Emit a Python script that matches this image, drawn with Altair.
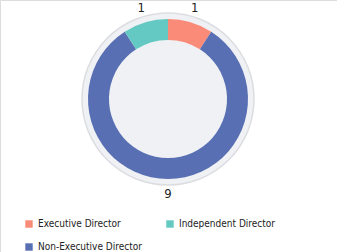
import altair as alt
import pandas as pd

roles = ["Executive Director", "Non-Executive Director", "Independent Director"]
counts = [1, 9, 1]
colors = ["#f98b78", "#5870b3", "#63c9c2"]

df = pd.DataFrame({"role": roles, "count": counts, "idx": list(range(len(roles)))})

CX, CY = 168, 99
FONT = "DejaVu Sans Condensed"

base = alt.Chart(df)

bg = alt.Chart(pd.DataFrame({"k": [0]})).mark_arc(
    radius=86, theta=0, theta2=6.2832, fill="#f0f1f4", stroke="#dcdde1", strokeWidth=1.5
).encode(x=alt.value(CX), y=alt.value(CY))

ring = base.mark_arc(radius=80, radius2=59).encode(
    theta=alt.Theta("count:Q", stack=True),
    order=alt.Order("idx:Q"),
    color=alt.Color(
        "role:N",
        sort=roles,
        scale=alt.Scale(domain=roles, range=colors),
        legend=alt.Legend(
            title=None, orient="none", legendX=24, legendY=219, columns=2,
            symbolType="square", symbolSize=55, symbolStrokeWidth=0,
            labelFont=FONT, labelFontSize=10, labelColor="#222222",
            columnPadding=23, rowPadding=13, padding=0, labelLimit=200,
        ),
    ),
    x=alt.value(CX), y=alt.value(CY),
)

labels = base.mark_text(radius=95, font=FONT, fontSize=13, color="#222222").encode(
    theta=alt.Theta("count:Q", stack=True),
    order=alt.Order("idx:Q"),
    text=alt.Text("count:Q"),
    x=alt.value(CX), y=alt.value(CY),
)

chart = alt.layer(bg, ring, labels).properties(
    width=337, height=252, autosize=alt.AutoSizeParams(type="none"), padding=0
).configure_view(stroke=None).configure(background="white")

chart.save("out.html", embed_options={"renderer": "svg", "actions": False})
